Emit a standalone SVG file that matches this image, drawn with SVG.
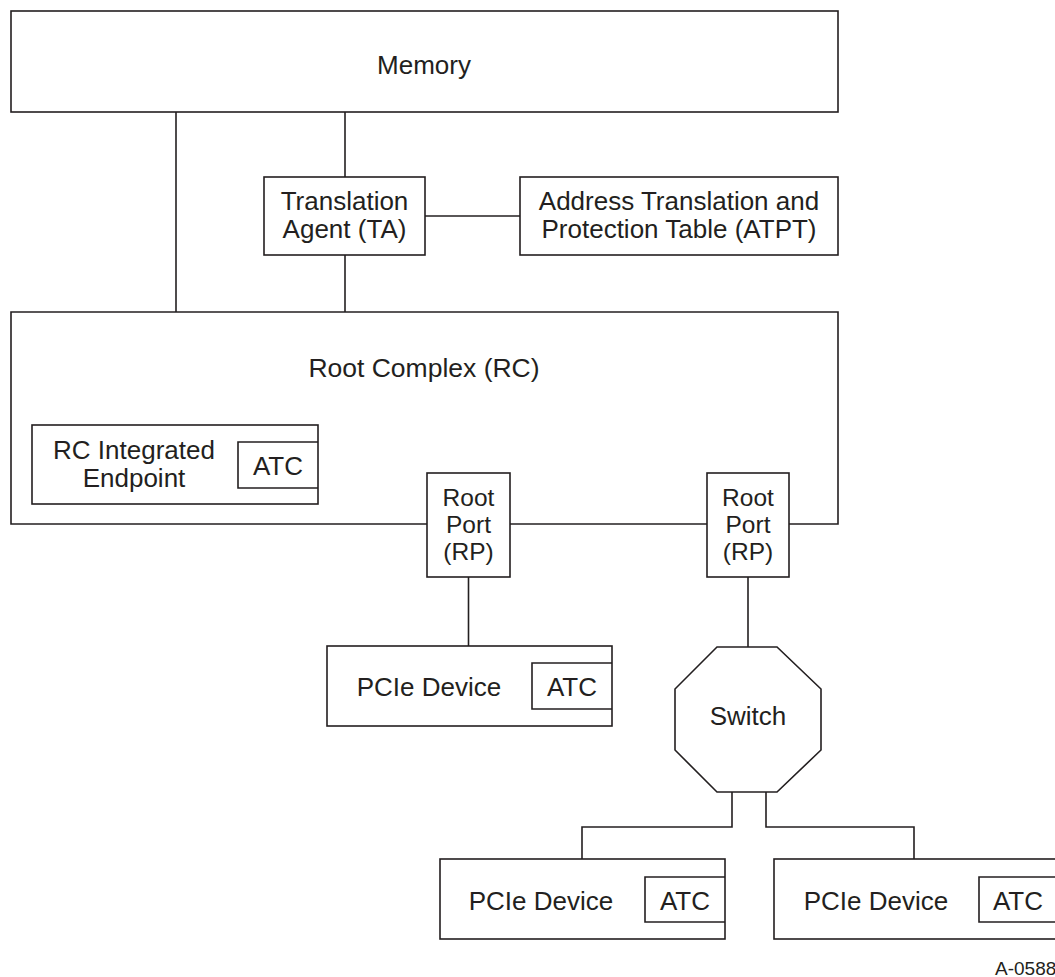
<svg xmlns="http://www.w3.org/2000/svg" width="1055" height="977" viewBox="0 0 1055 977">
<style>
.box{fill:#fff;stroke:#231f20;stroke-width:1.6}
.ln{fill:none;stroke:#231f20;stroke-width:1.6}
text{font-family:"Liberation Sans",Arial,sans-serif;font-size:26px;fill:#231f20;text-anchor:middle}
.rp{font-size:24.5px}
.small{font-size:19px;text-anchor:start}
</style>
<rect width="1055" height="977" fill="#fff"/>
<g id="connectors">
<path class="ln" d="M176,112 V312"/>
<path class="ln" d="M345,112 V177"/>
<path class="ln" d="M345,255 V312"/>
<path class="ln" d="M425,216 H520"/>
<path class="ln" d="M468.5,577 V646"/>
<path class="ln" d="M748,577 V647"/>
<path class="ln" d="M732,792 V827 H582 V859"/>
<path class="ln" d="M766,792 V827 H914 V859"/>
</g>
<g id="memory">
<rect class="box" x="11" y="11" width="827" height="101"/>
<text x="424" y="74">Memory</text>
</g>
<g id="ta">
<rect class="box" x="264" y="177" width="161" height="78"/>
<text x="344.5" y="210">Translation</text>
<text x="344.5" y="238">Agent (TA)</text>
</g>
<g id="atpt">
<rect class="box" x="520" y="177" width="318" height="78"/>
<text x="679" y="210">Address Translation and</text>
<text x="679" y="238">Protection Table (ATPT)</text>
</g>
<g id="rc">
<path class="ln" d="M427,524 H11 V312 H838 V524 H789"/>
<path class="ln" d="M510,524 H707"/>
<text x="424" y="377" style="font-size:26.5px">Root Complex (RC)</text>
</g>
<g id="rcie">
<rect class="box" x="32" y="425" width="286" height="79"/>
<path class="ln" d="M318,442 H238 V488 H318"/>
<text x="134" y="459">RC Integrated</text>
<text x="134" y="487">Endpoint</text>
<text x="278" y="475">ATC</text>
</g>
<g id="rp1">
<rect class="box" x="427" y="473" width="83" height="104"/>
<text class="rp" x="468.5" y="506">Root</text>
<text class="rp" x="468.5" y="533">Port</text>
<text class="rp" x="468.5" y="560">(RP)</text>
</g>
<g id="rp2">
<rect class="box" x="707" y="473" width="82" height="104"/>
<text class="rp" x="748" y="506">Root</text>
<text class="rp" x="748" y="533">Port</text>
<text class="rp" x="748" y="560">(RP)</text>
</g>
<g id="pcie1">
<rect class="box" x="327" y="646" width="285" height="80"/>
<path class="ln" d="M612,663 H532 V709 H612"/>
<text x="429" y="696">PCIe Device</text>
<text x="572" y="696">ATC</text>
</g>
<g id="switch">
<polygon class="box" points="717,647 777,647 821,689 821,750 777,792 717,792 675,750 675,689"/>
<text x="748" y="725">Switch</text>
</g>
<g id="pcie2">
<rect class="box" x="440" y="859" width="285" height="80"/>
<path class="ln" d="M725,877 H645 V922 H725"/>
<text x="541" y="910">PCIe Device</text>
<text x="685" y="910">ATC</text>
</g>
<g id="pcie3">
<rect class="box" x="774" y="859" width="285" height="80"/>
<path class="ln" d="M1059,877 H979 V922 H1059"/>
<text x="876" y="910">PCIe Device</text>
<text x="1018" y="910">ATC</text>
</g>
<text class="small" x="995" y="975">A-0588</text>
</svg>
